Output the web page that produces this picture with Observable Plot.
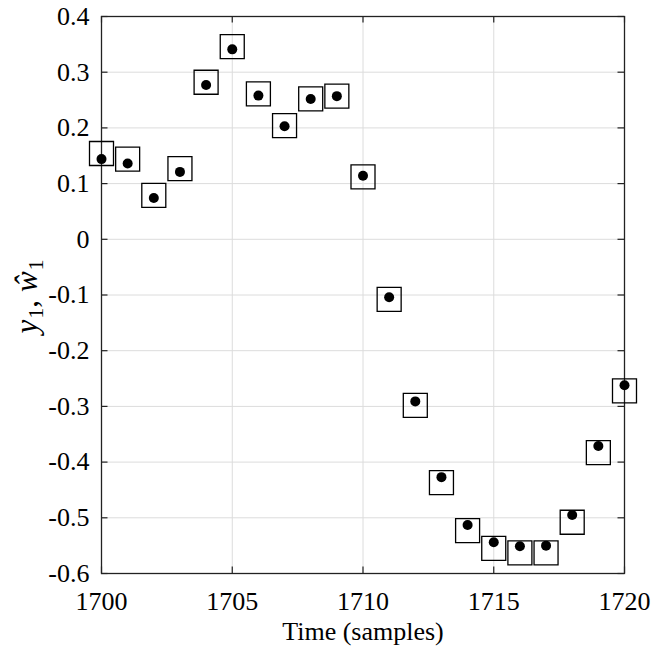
<!DOCTYPE html>
<html>
<head>
<meta charset="utf-8">
<script src="https://cdn.jsdelivr.net/npm/d3@7"></script>
<script src="https://cdn.jsdelivr.net/npm/@observablehq/plot@0.6"></script>
<style>
  html, body { margin: 0; padding: 0; background: white; }
  #chart svg { display: block; }
</style>
</head>
<body>
<div id="chart"></div>
<script>
// Time samples
const time = [1700, 1701, 1702, 1703, 1704, 1705, 1706, 1707, 1708, 1709, 1710,
              1711, 1712, 1713, 1714, 1715, 1716, 1717, 1718, 1719, 1720];
// y_1 (filled dots)
const y1 = [0.144, 0.136, 0.074, 0.121, 0.277, 0.341, 0.258, 0.203, 0.252, 0.257, 0.114,
            -0.104, -0.291, -0.427, -0.513, -0.544, -0.551, -0.550, -0.495, -0.371, -0.262];
// w-hat_1 (open squares)
const w1 = [0.154, 0.144, 0.079, 0.127, 0.282, 0.346, 0.261, 0.204, 0.252, 0.257, 0.112,
            -0.108, -0.298, -0.437, -0.523, -0.555, -0.563, -0.563, -0.508, -0.383, -0.272];
// Tick values
const xTicks = [1700, 1705, 1710, 1715, 1720];
const yTicks = [-0.6, -0.5, -0.4, -0.3, -0.2, -0.1, 0, 0.1, 0.2, 0.3, 0.4];
const xLabel = "Time (samples)";

const data = time.map((t, i) => ({t, y: y1[i], w: w1[i]}));

const W = 665, H = 651;
const mL = 101, mR = 41, mT = 16, mB = 78;
const innerW = W - mL - mR, innerH = H - mT - mB;
const tick = 6.5;
const FONT = "Liberation Serif";
const FS = 26;
const fmt = d => (Math.abs(d) < 1e-9 ? "0" : d.toFixed(1));

const chart = Plot.plot({
  width: W, height: H,
  marginLeft: mL, marginRight: mR, marginTop: mT, marginBottom: mB,
  style: {fontFamily: FONT, fontSize: FS + "px", color: "black", background: "white"},
  x: {domain: [1700, 1720], axis: null},
  y: {domain: [-0.6, 0.4], axis: null},
  marks: [
    Plot.gridX(xTicks, {stroke: "#dcdcdc", strokeOpacity: 1, strokeWidth: 1}),
    Plot.gridY(yTicks, {stroke: "#dcdcdc", strokeOpacity: 1, strokeWidth: 1}),
    Plot.tickX(xTicks, {x: d => d, insetTop: innerH - tick, stroke: "#222", strokeWidth: 1.2}),
    Plot.tickX(xTicks, {x: d => d, insetBottom: innerH - tick, stroke: "#222", strokeWidth: 1.2}),
    Plot.tickY(yTicks, {y: d => d, insetRight: innerW - tick, stroke: "#222", strokeWidth: 1.2}),
    Plot.tickY(yTicks, {y: d => d, insetLeft: innerW - tick, stroke: "#222", strokeWidth: 1.2}),
    Plot.frame({stroke: "#222", strokeWidth: 1.3}),
    // tick labels
    Plot.text(xTicks, {x: d => d, text: d => String(d), frameAnchor: "bottom", dy: 18, lineAnchor: "top",
                       fontFamily: FONT, fontSize: FS, fill: "black"}),
    Plot.text(yTicks, {y: d => d, text: fmt, frameAnchor: "left", dx: -12, textAnchor: "end", lineAnchor: "middle",
                       fontFamily: FONT, fontSize: FS, fill: "black"}),
    Plot.dot(data, {x: "t", y: "w", symbol: "square", r: 13.54, stroke: "black", strokeWidth: 1.3, fill: "none"}),
    Plot.dot(data, {x: "t", y: "y", r: 5, fill: "black", stroke: "none"}),
    Plot.text([xLabel], {text: d => d, frameAnchor: "bottom", dy: 58, lineAnchor: "middle",
                         fontFamily: FONT, fontSize: FS, fill: "black"})
  ]
});

// y-axis label with math-style italics and subscripts
const ns = "http://www.w3.org/2000/svg";
const t = document.createElementNS(ns, "text");
t.setAttribute("transform", `translate(37,${mT + innerH / 2 + 2}) rotate(-90)`);
t.setAttribute("text-anchor", "middle");
t.setAttribute("font-size", "31");
t.setAttribute("font-family", FONT);
t.setAttribute("fill", "black");
const parts = [
  ["y", "italic", null, 0],
  ["1", "normal", "sub", 1],
  [",", "normal", null, 0],
  ["ŵ", "italic", null, 8],
  ["1", "normal", "sub", 1]
];
for (const [s, style, shift, dx] of parts) {
  const sp = document.createElementNS(ns, "tspan");
  sp.textContent = s;
  sp.setAttribute("font-style", style);
  if (dx) sp.setAttribute("dx", dx);
  if (shift) {
    sp.setAttribute("font-size", "22");
    sp.setAttribute("baseline-shift", "-6");
  }
  t.appendChild(sp);
}
chart.appendChild(t);

document.getElementById("chart").appendChild(chart);
</script>
</body>
</html>
